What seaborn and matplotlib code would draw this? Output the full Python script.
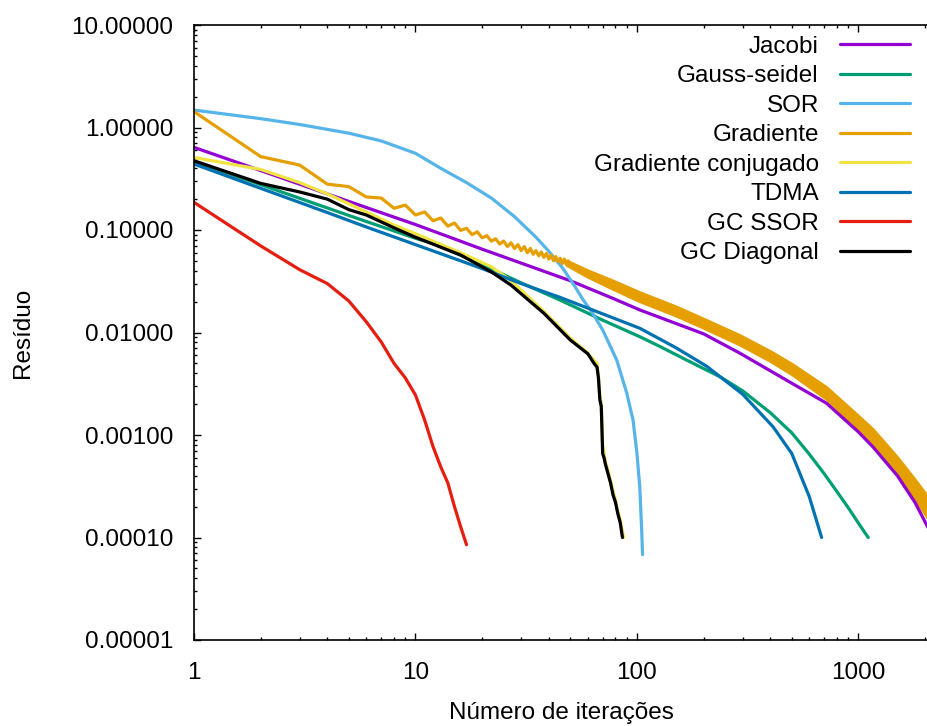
import numpy as np
import matplotlib
matplotlib.use("Agg")
import matplotlib.pyplot as plt
import seaborn as sns
from matplotlib.ticker import FixedLocator, FormatStrFormatter, LogLocator, NullFormatter

# Residual history (iteration, residual) for each linear solver
jacobi_it = [1, 2, 5, 10, 20, 50, 78, 103, 200, 292, 500, 718, 1000, 1166, 1500, 1800, 2061]
jacobi_res = [0.64, 0.38, 0.19, 0.113, 0.065, 0.032, 0.0215, 0.0166, 0.0097, 0.00627,
              0.0032, 0.00204, 0.00107, 0.00076, 0.0004, 0.00022, 0.000125]

gauss_it = [1, 2, 4, 6, 10, 12, 20, 30, 45, 70, 103, 127, 170, 237, 300, 400, 500, 600, 700,
            800, 900, 1000, 1107]
gauss_res = [0.465, 0.277, 0.164, 0.121, 0.083, 0.074, 0.046, 0.0305, 0.0207, 0.0132, 0.0091,
             0.0073, 0.0053, 0.0037, 0.0027, 0.00165, 0.00105, 0.00065, 0.00042, 0.00028,
             0.000195, 0.000138, 0.0001]

sor_it = [1, 2, 3, 5, 7, 10, 13, 17, 22, 28, 35, 40, 46, 52, 57, 63, 70, 81, 90, 96, 100, 103,
          105, 106]
sor_res = [1.48, 1.22, 1.07, 0.88, 0.74, 0.56, 0.40, 0.29, 0.205, 0.135, 0.085, 0.062, 0.043,
           0.029, 0.021, 0.0155, 0.0106, 0.0054, 0.00255, 0.0014, 0.00066, 0.00031, 0.00012,
           0.000068]

grad_it = [1, 2, 3, 4, 5, 6, 7, 8, 9, 10, 11, 12, 13, 14, 15, 16, 17, 18, 19, 20, 21, 22, 23,
           24, 25, 26, 27, 28, 29, 30, 31, 32, 33, 34, 35, 36, 37, 38, 39, 40, 41, 42, 43, 44,
           45, 46, 47, 48, 49]
grad_res = [1.43, 0.52, 0.43, 0.28, 0.265, 0.21, 0.205, 0.163, 0.175, 0.140, 0.150, 0.123,
            0.131, 0.109, 0.117, 0.099, 0.104, 0.090, 0.096, 0.084, 0.088, 0.078, 0.082, 0.073,
            0.078, 0.069, 0.075, 0.066, 0.072, 0.063, 0.069, 0.060, 0.066, 0.058, 0.063, 0.056,
            0.061, 0.054, 0.059, 0.052, 0.057, 0.050, 0.055, 0.049, 0.053, 0.047, 0.052, 0.046,
            0.050]
# beyond ~50 iterations the odd/even oscillation of the steepest-descent residual forms a band
grad_band_it = [48, 60, 80, 103, 150, 200, 292, 400, 500, 718, 1000, 1166, 1500, 1800, 2061]
grad_band_high = [0.0508, 0.0407, 0.0316, 0.0249, 0.0181, 0.01374, 0.00948, 0.00663, 0.00499,
                  0.00295, 0.00155, 0.001141, 0.000612, 0.000371, 0.000251]
grad_band_low = [0.0453, 0.0346, 0.0257, 0.01996, 0.0145, 0.01101, 0.00753, 0.00522, 0.00388,
                 0.00222, 0.001123, 0.000807, 0.000408, 0.000234, 0.000151]

gc_it = [1, 2, 3, 4, 5, 6, 7, 8, 10, 16, 22, 27, 38, 50, 59, 66, 67, 68, 69, 70, 72, 74, 76,
         78, 80, 82, 84, 87]
gc_res = [0.51, 0.39, 0.29, 0.225, 0.18, 0.15, 0.128, 0.112, 0.092, 0.06, 0.0438, 0.032, 0.016,
          0.0088, 0.0065, 0.005, 0.0038, 0.0024, 0.002, 0.0008, 0.00055, 0.00045, 0.00036,
          0.00028, 0.00023, 0.00018, 0.00015, 0.0001]

tdma_it = [1, 2, 4, 6, 10, 16, 20, 30, 45, 70, 103, 150, 206, 300, 412, 500, 600, 682]
tdma_res = [0.44, 0.255, 0.148, 0.107, 0.072, 0.050, 0.042, 0.030, 0.022, 0.0152, 0.0110,
            0.0071, 0.0047, 0.0025, 0.0012, 0.00066, 0.00025, 0.0001]

gcssor_it = list(range(1, 18))
gcssor_res = [0.186, 0.07, 0.041, 0.030, 0.0203, 0.0127, 0.0081, 0.005, 0.0036, 0.00245,
              0.0014, 0.00077, 0.00049, 0.00034, 0.0002, 0.000127, 0.000085]

gcdiag_it = [1, 2, 3, 4, 5, 6, 7, 8, 10, 16, 22, 27, 38, 50, 60, 64, 66, 67, 68, 69, 70, 71,
             72, 74, 76, 78, 80, 82, 84, 86]
gcdiag_res = [0.474, 0.285, 0.235, 0.20, 0.158, 0.14, 0.12, 0.105, 0.085, 0.057, 0.039, 0.029,
              0.0154, 0.00845, 0.0062, 0.005, 0.0046, 0.0036, 0.0022, 0.0019, 0.00066, 0.0006,
              0.00052, 0.00042, 0.00034, 0.00026, 0.00022, 0.00017, 0.00014, 0.0001]

series = [
    ("Jacobi", jacobi_it, jacobi_res, "#9400d3"),
    ("Gauss-seidel", gauss_it, gauss_res, "#009e73"),
    ("SOR", sor_it, sor_res, "#56b4e9"),
    ("Gradiente", grad_it, grad_res, "#e69f00"),
    ("Gradiente conjugado", gc_it, gc_res, "#f0e442"),
    ("TDMA", tdma_it, tdma_res, "#0072b2"),
    ("GC SSOR", gcssor_it, gcssor_res, "#e51e10"),
    ("GC Diagonal", gcdiag_it, gcdiag_res, "#000000"),
]

x_ticks = [1, 10, 100, 1000]
y_ticks = [1e-5, 1e-4, 1e-3, 1e-2, 1e-1, 1, 10]

sns.set_theme(style="ticks")
plt.rcParams["font.family"] = ["Liberation Sans", "DejaVu Sans"]
plt.rcParams["text.color"] = "black"
plt.rcParams["axes.labelcolor"] = "black"
plt.rcParams["xtick.color"] = "black"
plt.rcParams["ytick.color"] = "black"

FS = 17.5
LW = 2.3

W, H = 928, 726
fig = plt.figure(figsize=(W / 100, H / 100), dpi=100)
ax = fig.add_axes([194 / W, (H - 640) / H, (W - 194) / W, 615 / H])
ax.set_xscale("log")
ax.set_yscale("log")

for name, it, res, color in series:
    sns.lineplot(x=it, y=res, ax=ax, color=color, linewidth=LW, label=name,
                 estimator=None, sort=False)
    if name == "Gradiente":
        ax.fill_between(grad_band_it, grad_band_low, grad_band_high, color=color,
                        linewidth=1.6)

ax.set_xlim(1, 2061)
ax.set_ylim(1e-5, 10)

ax.xaxis.set_major_locator(FixedLocator(x_ticks))
ax.xaxis.set_major_formatter(FormatStrFormatter("%g"))
ax.xaxis.set_minor_locator(LogLocator(base=10, subs=np.arange(2, 10), numticks=20))
ax.xaxis.set_minor_formatter(NullFormatter())
ax.yaxis.set_major_locator(FixedLocator(y_ticks))
ax.yaxis.set_major_formatter(FormatStrFormatter("%.5f"))
ax.yaxis.set_minor_locator(LogLocator(base=10, subs=np.arange(2, 10), numticks=20))
ax.yaxis.set_minor_formatter(NullFormatter())

ax.tick_params(which="both", direction="in", top=True, right=False, width=1.0)
ax.tick_params(which="major", length=5)
ax.tick_params(which="minor", length=2.5)
ax.tick_params(axis="y", which="major", pad=15, labelsize=FS)
ax.tick_params(axis="x", which="major", pad=16, labelsize=FS)

for side in ["left", "bottom", "top"]:
    ax.spines[side].set_color("black")
    ax.spines[side].set_linewidth(1.2)
ax.spines["right"].set_visible(False)

ax.set_xlabel("Número de iterações", fontsize=FS, labelpad=13)
ax.set_ylabel("Resíduo", fontsize=FS, labelpad=27)

handles, labels = ax.get_legend_handles_labels()
ax.legend(handles, labels, loc="upper right", bbox_to_anchor=(910 / W, 1 - 35.5 / H),
          bbox_transform=fig.transFigure, frameon=False, markerfirst=False, fontsize=FS,
          handlelength=2.9, handletextpad=0.85, labelspacing=0.31, borderpad=0,
          borderaxespad=0)

fig.savefig("out.png", dpi=100)
